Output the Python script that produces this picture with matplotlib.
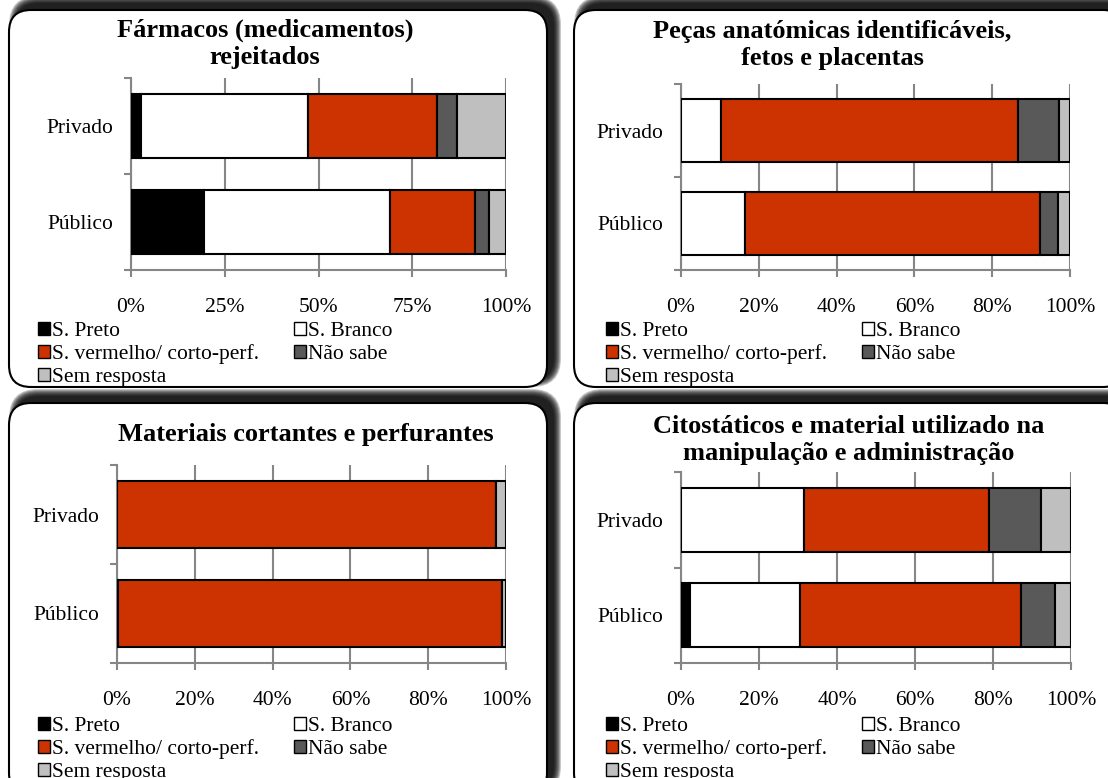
import numpy as np
import matplotlib
matplotlib.use('Agg')
import matplotlib.pyplot as plt
from matplotlib.patches import FancyBboxPatch, Patch

plt.rcParams['font.family'] = ['Liberation Serif', 'DejaVu Serif']

# ------------------------------- Dados -------------------------------
categorias = ['Público', 'Privado']
series = ['S. Preto', 'S. Branco', 'S. vermelho/ corto-perf.', 'Não sabe', 'Sem resposta']
cores = ['#000000', '#FFFFFF', '#CC3300', '#595959', '#BFBFBF']

farmacos_publico = [19.5, 49.6, 22.6, 3.8, 4.5]
farmacos_privado = [2.7, 44.5, 34.3, 5.3, 13.2]
pecas_publico = [0, 16.4, 75.8, 4.7, 3.1]
pecas_privado = [0, 10.3, 76.4, 10.6, 2.7]
cortantes_publico = [0, 0.3, 98.6, 0, 1.1]
cortantes_privado = [0, 0, 97.4, 0, 2.6]
citost_publico = [2.2, 28.4, 56.7, 8.7, 4.0]
citost_privado = [0, 31.5, 47.4, 13.3, 7.8]

titulos = ['Fármacos (medicamentos)\nrejeitados',
           'Peças anatómicas identificáveis,\nfetos e placentas',
           'Materiais cortantes e perfurantes',
           'Citostáticos e material utilizado na\nmanipulação e administração']
ticks_25 = [0, 25, 50, 75, 100]
ticks_20 = [0, 20, 40, 60, 80, 100]

W, H = 1108, 778
fig = plt.figure(figsize=(W / 100, H / 100), dpi=100)

def caixa(x0, y0, x1, y1):
    # sombra desfocada (para cima e para a direita)
    off = 7
    for i in range(8):
        s = FancyBboxPatch(((x0 + off - i) / 100, (H - y1 + off - i) / 100),
                           (x1 - x0 + 2 * i) / 100, (y1 - y0 + 2 * i) / 100,
                           boxstyle='round,pad=0,rounding_size=%.3f' % (0.22 + i / 100),
                           transform=fig.dpi_scale_trans, facecolor='black',
                           edgecolor='none', alpha=0.22, zorder=-12)
        fig.add_artist(s)
    b = FancyBboxPatch((x0 / 100, (H - y1) / 100), (x1 - x0) / 100, (y1 - y0) / 100,
                       boxstyle='round,pad=0,rounding_size=0.22',
                       transform=fig.dpi_scale_trans, facecolor='white',
                       edgecolor='black', linewidth=1.5, zorder=-10)
    fig.add_artist(b)

def painel(ax_px, publico, privado, ticks, titulo, tit_xy, leg_xy):
    l, t, r, b = ax_px
    ax = fig.add_axes([l / W, 1 - b / H, (r - l) / W, (b - t) / H])
    ax.set_facecolor('none')
    dados = np.array([publico, privado])
    esquerda = np.zeros(2)
    for j in range(len(series)):
        ax.barh([0, 1], dados[:, j], left=esquerda, height=0.67, color=cores[j],
                edgecolor='black', linewidth=1.5, label=series[j], zorder=3)
        esquerda += dados[:, j]
    ax.set_xlim(0, 100)
    ax.set_ylim(-0.5, 1.5)
    ax.set_xticks(ticks)
    ax.set_xticklabels([f'{v}%' for v in ticks])
    ax.xaxis.grid(True, color='#868686', linewidth=1.5, zorder=0)
    ax.set_axisbelow(True)
    ax.set_yticks([-0.5, 0.5, 1.5])
    ax.set_yticklabels([])
    ax.set_yticks([0, 1], minor=True)
    ax.set_yticklabels(categorias, minor=True)
    ax.tick_params(axis='y', which='minor', length=0, pad=13, labelsize=15.5)
    ax.tick_params(axis='y', which='major', length=5, width=1.5, color='#868686')
    ax.tick_params(axis='x', length=5, width=1.5, color='#868686', pad=15, labelsize=15.5)
    for s in ['top', 'right']:
        ax.spines[s].set_visible(False)
    for s in ['left', 'bottom']:
        ax.spines[s].set_color('#868686')
        ax.spines[s].set_linewidth(1.5)
    fig.text(tit_xy[0] / W, 1 - tit_xy[1] / H, titulo, ha='center', va='center',
             fontsize=19, fontweight='bold', linespacing=1.25)
    hs = [Patch(facecolor=cores[k], edgecolor='black', linewidth=1) for k in range(5)]
    ordem = [0, 2, 4, 1, 3]
    ax.legend([hs[k] for k in ordem], [series[k] for k in ordem], ncol=2,
              loc='upper left', bbox_to_anchor=(leg_xy[0] / 100, (H - leg_xy[1]) / 100),
              bbox_transform=fig.dpi_scale_trans, frameon=False, fontsize=15.5,
              handlelength=0.55, handleheight=0.55, handletextpad=0.12,
              labelspacing=0.16, columnspacing=1.6, borderpad=0, borderaxespad=0)
    return ax

caixa(9, 10, 547, 387)
caixa(574, 10, 1125, 387)
caixa(9, 403, 547, 795)
caixa(574, 403, 1125, 795)

painel((131, 78, 506, 270), farmacos_publico, farmacos_privado, ticks_25,
       titulos[0], (265, 44), (38, 322))
painel((681, 84, 1070, 270), pecas_publico, pecas_privado, ticks_20,
       titulos[1], (832, 45), (606, 322))
painel((117, 465, 506, 663), cortantes_publico, cortantes_privado, ticks_20,
       titulos[2], (306, 435), (38, 717))
painel((681, 472, 1071, 663), citost_publico, citost_privado, ticks_20,
       titulos[3], (849, 440), (606, 717))

fig.savefig('out.png', dpi=100)
